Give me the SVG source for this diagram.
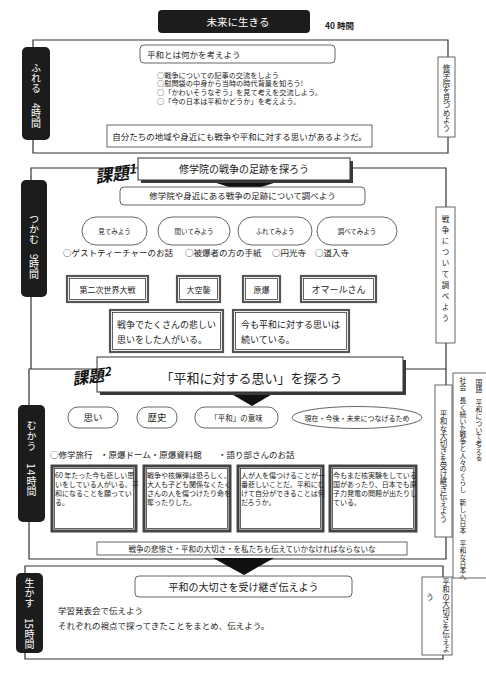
<svg xmlns="http://www.w3.org/2000/svg" width="486" height="700" viewBox="0 0 486 700">
<style>
text{font-family:"Noto Sans CJK JP","Noto Sans",sans-serif;fill:#222}
.v{writing-mode:vertical-rl}
.w{fill:#fff}
.m{text-anchor:middle}
.ln{stroke:#333;stroke-width:1.2;fill:none}
.bx{fill:#fff;stroke:#555;stroke-width:0.9}
.lb{fill:#1c1c1c}
.d1{fill:#fff;stroke:#555;stroke-width:2.2}
.d2{fill:none;stroke:#222;stroke-width:0.7}
.th{fill:#fff;stroke:#444;stroke-width:3}
.sh{fill:#3a3a3a}
.ar{fill:#111}
.kd{font-style:italic;font-weight:bold;fill:#111}
.bl{font-size:7.2px}
</style>
<rect width="486" height="700" fill="#fff"/>

<g id="connectors">
  <path class="ln" d="M448,57 V40 H33 V153 H448 V137"/>
  <path class="ln" d="M446,207 V168 H31 V369"/>
  <path class="ln" d="M446,343 V385"/>
  <path class="ln" d="M446,369 H29 V559 H446 V537"/>
  <path class="ln" d="M443,577 V566 H25 V659 H443 V655"/>
  <path class="ln" d="M469,498 H486"/>
  <polygon class="ar" points="210,181 280,181 245,192"/>
  <polygon class="ar" points="228,392 276,392 252,406"/>
  <polygon class="ar" points="213,558 274,558 244,575"/>
</g>

<g id="title">
  <rect x="158" y="10" width="152" height="23" rx="4" class="lb"/>
  <text x="238" y="25.5" class="w m" font-size="10.5">未来に生きる</text>
  <text x="325" y="29" font-size="8.5" font-weight="bold">40 時間</text>
</g>

<g id="label-fureru">
  <rect x="22" y="47" width="28" height="93" rx="5" class="lb"/>
  <text x="36" y="63" class="v w" font-size="10">ふれる　4時間</text>
</g>
<g id="goal-fureru">
  <rect x="438" y="57" width="17" height="80" class="bx"/>
  <text x="446.5" y="64" class="v" font-size="7.5">修学院を見つめよう</text>
</g>
<g id="task-heiwa">
  <rect x="140" y="45" width="195" height="18" rx="4" class="bx"/>
  <text x="147" y="57.5" font-size="8.5">平和とは何かを考えよう</text>
</g>
<g id="list-fureru">
  <text x="157" y="77.5" class="bl">○戦争についての記事の交流をしよう</text>
  <text x="157" y="86.3" class="bl">○慰問袋の中身から当時の時代背景を知ろう!</text>
  <text x="157" y="95.1" class="bl">○「かわいそうなぞう」を見て考えを交流しよう。</text>
  <text x="157" y="103.9" class="bl">○「今の日本は平和かどうか」を考えよう。</text>
</g>
<g id="find-fureru">
  <rect x="107" y="125" width="265" height="22" class="bx"/>
  <text x="239.5" y="139.5" class="m" font-size="8.5">自分たちの地域や身近にも戦争や平和に対する思いがあるようだ。</text>
</g>

<g id="kadai1">
  <rect x="141" y="161" width="212" height="22" class="sh"/>
  <rect x="138" y="158" width="212" height="22" fill="#fff" stroke="#333"/>
  <text x="244" y="173" class="m" font-size="10">修学院の戦争の足跡を探ろう</text>
  <text x="96" y="183" class="kd" font-size="17" transform="rotate(-8 96 183)">課題<tspan font-size="13" dy="-4">1</tspan></text>
</g>
<g id="label-tsukamu">
  <rect x="21" y="180" width="26" height="117" rx="5" class="lb"/>
  <text x="34" y="214" class="v w" font-size="10">つかむ　9時間</text>
</g>
<g id="goal-tsukamu">
  <rect x="436" y="207" width="19" height="136" class="bx"/>
  <text x="445.5" y="215" class="v" font-size="7.5" letter-spacing="3.5">戦争について調べよう</text>
</g>
<g id="task-shirabe">
  <rect x="120" y="187" width="245" height="18" rx="4" class="bx"/>
  <text x="242.5" y="199" class="m" font-size="8.5">修学院や身近にある戦争の足跡について調べよう</text>
</g>
<g id="pill-miru"><rect x="82" y="217" width="65" height="28" rx="14" class="bx"/><text x="114.5" y="233.5" class="m" font-size="6.5">見てみよう</text></g>
<g id="pill-kiku"><rect x="158" y="217" width="72" height="28" rx="14" class="bx"/><text x="194" y="233.5" class="m" font-size="6.5">聞いてみよう</text></g>
<g id="pill-fureru"><rect x="238" y="217" width="74" height="28" rx="14" class="bx"/><text x="275" y="233.5" class="m" font-size="6.5">ふれてみよう</text></g>
<g id="pill-shiraberu"><rect x="317" y="217" width="80" height="28" rx="14" class="bx"/><text x="357" y="233.5" class="m" font-size="6.5">調べてみよう</text></g>
<g id="list-tsukamu">
  <text x="63" y="256" font-size="8.5">○ゲストティーチャーのお話</text>
  <text x="185" y="256" font-size="8.5">○被爆者の方の手紙</text>
  <text x="272" y="256" font-size="8.5">○円光寺</text>
  <text x="315" y="256" font-size="8.5">○道入寺</text>
</g>
<g id="kw-ww2"><rect x="67" y="276" width="81" height="26" class="d1"/><rect x="69.5" y="278.5" width="76" height="21" class="d2"/><text x="107.5" y="292.5" class="m" font-size="8">第二次世界大戦</text></g>
<g id="kw-kushu"><rect x="177" y="276" width="43" height="26" class="d1"/><rect x="179.5" y="278.5" width="38" height="21" class="d2"/><text x="198.5" y="292.5" class="m" font-size="8">大空襲</text></g>
<g id="kw-genbaku"><rect x="243" y="276" width="37" height="26" class="d1"/><rect x="245.5" y="278.5" width="32" height="21" class="d2"/><text x="261.5" y="292.5" class="m" font-size="8">原爆</text></g>
<g id="kw-omar"><rect x="301" y="276" width="75" height="26" class="d1"/><rect x="303.5" y="278.5" width="70" height="21" class="d2"/><text x="338.5" y="293" class="m" font-size="9">オマールさん</text></g>
<g id="find-kanashii">
  <rect x="110" y="310" width="113" height="42" class="d1"/><rect x="112.5" y="312.5" width="108" height="37" class="d2"/>
  <text x="117" y="328" font-size="9">戦争でたくさんの悲しい</text>
  <text x="117" y="343" font-size="9">思いをした人がいる。</text>
</g>
<g id="find-tsuzuku">
  <rect x="233" y="310" width="116" height="42" class="d1"/><rect x="235.5" y="312.5" width="111" height="37" class="d2"/>
  <text x="241" y="328" font-size="9">今も平和に対する思いは</text>
  <text x="241" y="343" font-size="9">続いている。</text>
</g>

<g id="kadai2">
  <rect x="100" y="360" width="306" height="35" class="sh"/>
  <rect x="97" y="357" width="306" height="35" fill="#fff" stroke="#333"/>
  <text x="251.5" y="382.5" class="m" font-size="13">「平和に対する思い」を探ろう</text>
  <text x="73" y="385" class="kd" font-size="16" transform="rotate(-8 73 385)">課題<tspan font-size="12" dy="-4">2</tspan></text>
</g>
<g id="label-mukau">
  <rect x="18" y="405" width="27" height="117" rx="5" class="lb"/>
  <text x="31.5" y="420" class="v w" font-size="10" letter-spacing="0.8">むかう　14時間</text>
</g>
<g id="goal-mukau">
  <rect x="435" y="385" width="17" height="152" class="bx"/>
  <text x="443.5" y="410" class="v" font-size="7.5">平和な大切さを受け継ぎ伝えよう</text>
</g>
<g id="subjects">
  <rect x="453" y="373" width="40" height="205" class="bx"/>
  <text x="463" y="377" class="v" font-size="6.8">社会　長く続いた戦争と人々のくらし　新しい日本　平和な日本へ</text>
  <text x="479" y="379" class="v" font-size="6.8">国語　平和について考える</text>
</g>
<g id="pill-omoi"><rect x="68" y="407" width="50" height="21" rx="10" class="bx"/><text x="93" y="421" class="m" font-size="9.5">思い</text></g>
<g id="pill-rekishi"><rect x="137" y="407" width="40" height="21" rx="10" class="bx"/><text x="157" y="421" class="m" font-size="9.5">歴史</text></g>
<g id="pill-imi"><rect x="195" y="407" width="83" height="21" rx="10" class="bx"/><text x="236.5" y="420.5" class="m" font-size="7.5">「平和」の意味</text></g>
<g id="pill-mirai"><ellipse cx="357" cy="417.5" rx="65" ry="11" class="bx"/><text x="357" y="420.5" class="m" font-size="7">現在・今後・未来につなげるため</text></g>
<g id="list-mukau">
  <text x="50" y="458" font-size="8.5">○修学旅行</text>
  <text x="100" y="458" font-size="8.5">・原爆ドーム・原爆資料館</text>
  <text x="218" y="458" font-size="8.5">・語り部さんのお話</text>
</g>
<g id="voice1">
  <rect x="52" y="466" width="84" height="65" class="th"/><rect x="54.5" y="468.5" width="79" height="60" class="d2"/>
  <text x="55" y="477.5" font-size="7">60 年たった今も悲しい思</text>
  <text x="55" y="486.5" font-size="7">いをしている人がいる。平</text>
  <text x="55" y="495.5" font-size="7">和になることを願ってい</text>
  <text x="55" y="504.5" font-size="7">る。</text>
</g>
<g id="voice2">
  <rect x="144" y="466" width="86" height="65" class="th"/><rect x="146.5" y="468.5" width="81" height="60" class="d2"/>
  <text x="147" y="477.5" font-size="7">戦争や核爆弾は恐ろしく、</text>
  <text x="147" y="486.5" font-size="7">大人も子ども関係なくたく</text>
  <text x="147" y="495.5" font-size="7">さんの人を傷つけたり命を</text>
  <text x="147" y="504.5" font-size="7">奪ったりした。</text>
</g>
<g id="voice3">
  <rect x="238" y="466" width="85" height="65" class="th"/><rect x="240.5" y="468.5" width="80" height="60" class="d2"/>
  <text x="241" y="477.5" font-size="7">人が人を傷つけることが一</text>
  <text x="241" y="486.5" font-size="7">番悲しいことだ。平和にむ</text>
  <text x="241" y="495.5" font-size="7">けて自分ができることは何</text>
  <text x="241" y="504.5" font-size="7">だろうか。</text>
</g>
<g id="voice4">
  <rect x="330" y="466" width="86" height="65" class="th"/><rect x="332.5" y="468.5" width="81" height="60" class="d2"/>
  <text x="333" y="477.5" font-size="7">今もまだ核実験をしている</text>
  <text x="333" y="486.5" font-size="7">国があったり、日本でも原</text>
  <text x="333" y="495.5" font-size="7">子力発電の問題が出たりし</text>
  <text x="333" y="504.5" font-size="7">ている。</text>
</g>
<g id="find-mukau">
  <rect x="97" y="542" width="310" height="13" class="bx"/>
  <text x="252" y="551.5" class="m" font-size="7.5">戦争の悲惨さ・平和の大切さ・を私たちも伝えていかなければならないな</text>
</g>

<g id="label-ikasu">
  <rect x="16" y="573" width="27" height="80" rx="5" class="lb"/>
  <text x="29.5" y="578" class="v w" font-size="10">生かす　15時間</text>
</g>
<g id="task-tsutaeru">
  <rect x="135" y="576" width="217" height="21" rx="4" class="bx"/>
  <text x="243.5" y="590.5" class="m" font-size="10">平和の大切さを受け継ぎ伝えよう</text>
</g>
<g id="list-ikasu">
  <text x="58" y="614" font-size="8.5">学習発表会で伝えよう</text>
  <text x="58" y="629" font-size="8.5">それぞれの視点で探ってきたことをまとめ、伝えよう。</text>
</g>
<g id="goal-ikasu">
  <rect x="422" y="577" width="30" height="78" class="bx"/>
  <text x="446" y="578" class="v" font-size="7.5">平和の大切さを伝えよ</text>
  <text x="430" y="600" class="m" font-size="7.5">う</text>
</g>
</svg>
